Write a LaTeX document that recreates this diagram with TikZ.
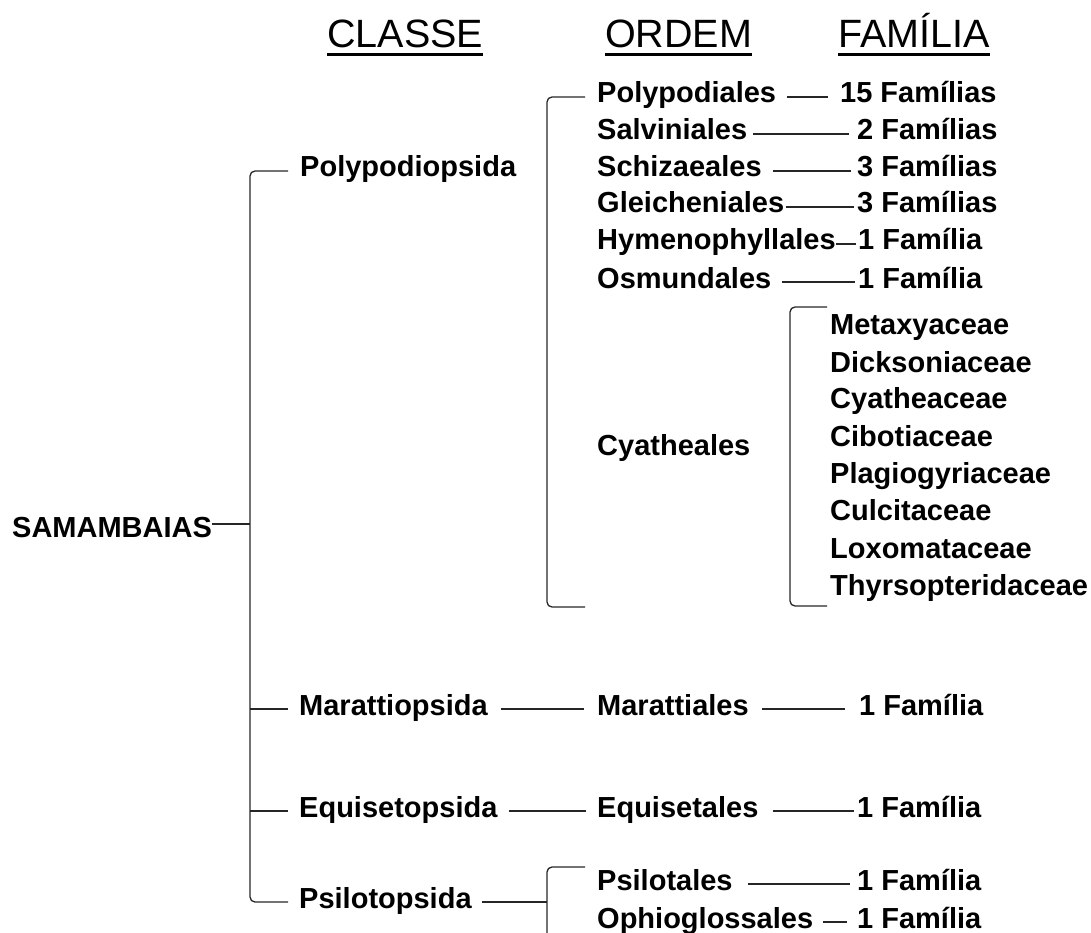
\documentclass[tikz,border=0pt]{standalone}
\usepackage{fontspec}
\setmainfont{Liberation Sans}
\begin{document}
\begin{tikzpicture}[x=1pt,y=-1pt,
  lbl/.style={anchor=base west,inner sep=0pt,text height=19pt,text depth=7pt,
              font=\fontsize{29}{34}\selectfont\bfseries},
  hdr/.style={anchor=base west,inner sep=0pt,text depth=0pt,
              font=\fontsize{39.5}{44}\selectfont},
  uline/.style={line width=3pt,black},
  conn/.style={line width=1.3pt,black!85},
  brk/.style={line width=1.3pt,black!85,rounded corners=5pt}]
\useasboundingbox (0,0) rectangle (1091,933);

% headers
\node[hdr] (hcl) at (327,48) {CLASSE};
\node[hdr] (hor) at (605,48) {ORDEM};
\node[hdr] (hfa) at (838,48) {FAMÍLIA};
\foreach \h in {hcl,hor,hfa}
  \draw[uline] ([yshift=-6.5pt]\h.south west) -- ([yshift=-6.5pt]\h.south east);

% root and classes
\node[lbl] (sam) at (12,537) {SAMAMBAIAS};
\node[lbl] (cpoly) at (300,177) {Polypodiopsida};
\node[lbl] (cmar) at (299,715) {Marattiopsida};
\node[lbl] (cequ) at (299,817) {Equisetopsida};
\node[lbl] (cpsil) at (299,908) {Psilotopsida};

% orders
\node[lbl] (opoly) at (597,103) {Polypodiales};
\node[lbl] (osal) at (597,140) {Salviniales};
\node[lbl] (osch) at (597,177) {Schizaeales};
\node[lbl] (ogle) at (597,213) {Gleicheniales};
\node[lbl] (ohym) at (597,250) {Hymenophyllales};
\node[lbl] (oosm) at (597,288) {Osmundales};
\node[lbl] (ocya) at (597,455) {Cyatheales};
\node[lbl] (omar) at (597,715) {Marattiales};
\node[lbl] (oequ) at (597,817) {Equisetales};
\node[lbl] (opsi) at (597,890) {Psilotales};
\node[lbl] (ooph) at (597,928) {Ophioglossales};

% families
\node[lbl] (f1) at (840,103) {15 Famílias};
\node[lbl] (f2) at (857,140) {2 Famílias};
\node[lbl] (f3) at (857,177) {3 Famílias};
\node[lbl] (f4) at (857,213) {3 Famílias};
\node[lbl] (f5) at (858,250) {1 Família};
\node[lbl] (f6) at (858,288) {1 Família};
\node[lbl] (fmar) at (859,715) {1 Família};
\node[lbl] (fequ) at (857,817) {1 Família};
\node[lbl] (fpsi) at (857,890) {1 Família};
\node[lbl] (foph) at (857,928) {1 Família};

\node[lbl] (cy1) at (830,334) {Metaxyaceae};
\node[lbl] (cy2) at (830,372) {Dicksoniaceae};
\node[lbl] (cy3) at (830,408) {Cyatheaceae};
\node[lbl] (cy4) at (830,446) {Cibotiaceae};
\node[lbl] (cy5) at (830,483) {Plagiogyriaceae};
\node[lbl] (cy6) at (830,520) {Culcitaceae};
\node[lbl] (cy7) at (830,558) {Loxomataceae};
\node[lbl] (cy8) at (830,595) {Thyrsopteridaceae};

% helper coordinates
\coordinate (spine) at (250,0);
\coordinate (pbr) at (547,607);
\coordinate (pbrend) at (585,607);
\coordinate (ctop) at (827,307);
\coordinate (cbr) at (790,606);
\coordinate (cbrend) at (827,606);
\coordinate (psbr) at (547,867);
\coordinate (psbrtop) at (585,867);
\coordinate (psbrbot) at (547,945);

% root bracket
\draw[conn] ([yshift=7pt]sam.east) -- ([yshift=7pt]sam.east -| spine);
\draw[brk] ([xshift=-12pt]cpoly.west) -| (spine |- cpsil.west) -- ([xshift=-11pt]cpsil.west);
\draw[conn] (spine |- cmar.west) -- ([xshift=-11pt]cmar.west);
\draw[conn] (spine |- cequ.west) -- ([xshift=-11pt]cequ.west);

% Polypodiopsida orders bracket
\draw[brk] ([xshift=-12pt]opoly.west) -| (pbr) -- (pbrend);

% Cyatheales families bracket
\draw[brk] (ctop) -| (cbr) -- (cbrend);

% order -> family lines
\draw[conn] ([xshift=11pt]opoly.east) -- ([xshift=-12pt]f1.west);
\draw[conn] ([xshift=6pt]osal.east) -- ([xshift=-8pt]f2.west);
\draw[conn] ([xshift=11pt]osch.east) -- ([xshift=-6pt]f3.west);
\draw[conn] ([xshift=2pt]ogle.east) -- ([xshift=-3pt]f4.west);
\draw[conn] ([xshift=0pt]ohym.east) -- ([xshift=-2pt]f5.west);
\draw[conn] ([xshift=11pt]oosm.east) -- ([xshift=-3pt]f6.west);

% lower classes
\draw[conn] ([xshift=13pt]cmar.east) -- ([xshift=-13pt]omar.west);
\draw[conn] ([xshift=13pt]omar.east) -- ([xshift=-14pt]fmar.west);
\draw[conn] ([xshift=11pt]cequ.east) -- ([xshift=-11pt]oequ.west);
\draw[conn] ([xshift=14pt]oequ.east) -- ([xshift=-3pt]fequ.west);

% Psilotopsida
\draw[conn] ([xshift=10pt]cpsil.east) -- (cpsil.east -| psbr);
\draw[brk] (psbrtop) -| (psbrbot);
\draw[conn] ([xshift=15pt]opsi.east) -- ([xshift=-7pt]fpsi.west);
\draw[conn] ([xshift=10pt]ooph.east) -- ([xshift=-10pt]foph.west);
\end{tikzpicture}
\end{document}
